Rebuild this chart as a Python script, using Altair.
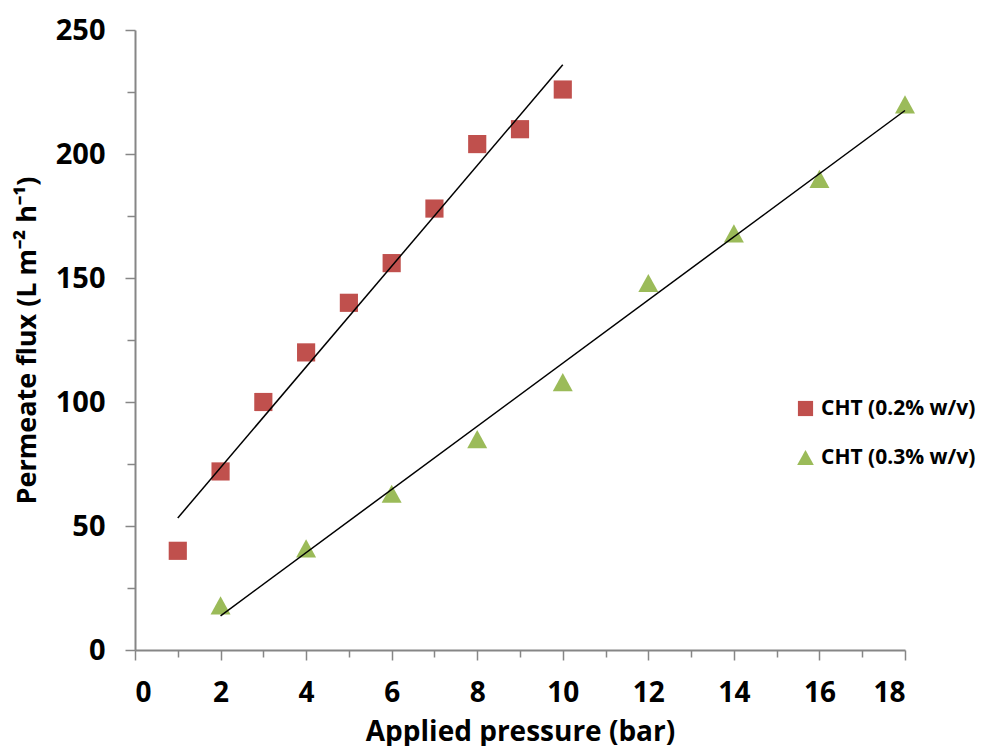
import altair as alt
import pandas as pd

series_names = ["CHT (0.2% w/v)", "CHT (0.3% w/v)"]
pressure_a = [1, 2, 3, 4, 5, 6, 7, 8, 9, 10]
flux_a = [40, 72, 100, 120, 140, 156, 178, 204, 210, 226]
pressure_b = [2, 4, 6, 8, 10, 12, 14, 16, 18]
flux_b = [18, 41, 63, 85, 108, 148, 168, 190, 220]

x_major = [0, 2, 4, 6, 8, 10, 12, 14, 16, 18]
x_minor = [1, 3, 5, 7, 9, 11, 13, 15, 17]
y_major = [0, 50, 100, 150, 200, 250]
y_minor = [25, 75, 125, 175, 225]

colors = ["#C0504D", "#9BBB59"]
shapes = ["square", "M0,-1L1.1,1L-1.1,1Z"]

df = pd.DataFrame({
    "pressure": pressure_a + pressure_b,
    "flux": flux_a + flux_b,
    "series": [series_names[0]] * len(pressure_a) + [series_names[1]] * len(pressure_b),
})

FONT = "Open Sans"
AX = "#868686"
xs = alt.Scale(domain=[0, 18], nice=False, zero=False)
ys = alt.Scale(domain=[0, 250], nice=False)

base = alt.Chart(df)

minor = base.mark_point(opacity=0).encode(
    x=alt.X("pressure:Q", scale=xs,
            axis=alt.Axis(values=x_minor, labels=False, domain=False, grid=False,
                          tickSize=7, tickWidth=1.5, tickColor=AX, orient="bottom", title=None)),
    y=alt.Y("flux:Q", scale=ys,
            axis=alt.Axis(values=y_minor, labels=False, domain=False, grid=False,
                          tickSize=8, tickWidth=1.5, tickColor=AX, orient="left", title=None)),
)

points = base.mark_point(filled=True, opacity=1, size=330).encode(
    x=alt.X("pressure:Q", scale=xs,
            axis=alt.Axis(values=x_major, grid=False, tickSize=10, tickWidth=1.5, tickColor=AX,
                          domainColor=AX, domainWidth=2, labelFont=FONT, labelFontSize=28,
                          labelFontWeight="bold", labelColor="black", labelPadding=19,
                          title="Applied pressure (bar)", titleFont=FONT, titleFontSize=28,
                          titleFontWeight="bold", titleColor="black", titlePadding=11,
                          orient="bottom")),
    y=alt.Y("flux:Q", scale=ys,
            axis=alt.Axis(values=y_major, grid=False, tickSize=10, tickWidth=1.5, tickColor=AX,
                          domainColor=AX, domainWidth=2, labelFont=FONT, labelFontSize=29,
                          labelFontWeight="bold", labelColor="black", labelPadding=20,
                          title="Permeate flux (L m⁻² h⁻¹)", titleFont=FONT, titleFontSize=27,
                          titleFontWeight="bold", titleColor="black", titlePadding=14,
                          orient="left")),
    color=alt.Color("series:N", scale=alt.Scale(domain=series_names, range=colors),
                    legend=alt.Legend(title=None, orient="none", legendX=660, legendY=368,
                                      labelFont=FONT, labelFontSize=21, labelFontWeight="bold",
                                      labelColor="black", symbolSize=230, rowPadding=27,
                                      labelOffset=5, symbolOpacity=1, labelLimit=400,
                                      padding=0)),
    shape=alt.Shape("series:N", scale=alt.Scale(domain=series_names, range=shapes), legend=None),
)

trend = base.transform_regression("pressure", "flux", groupby=["series"]).mark_line(
    color="black", strokeWidth=1.5
).encode(
    x=alt.X("pressure:Q", scale=xs),
    y=alt.Y("flux:Q", scale=ys),
    detail="series:N",
)

chart = alt.layer(minor, alt.layer(points, trend)).resolve_axis(x="independent", y="independent").properties(
    width=770, height=620, padding={"left": 5, "top": 8, "right": 0, "bottom": 0}
).configure_view(stroke=None)

chart.save("out.html", embed_options={"renderer": "svg", "actions": False})
